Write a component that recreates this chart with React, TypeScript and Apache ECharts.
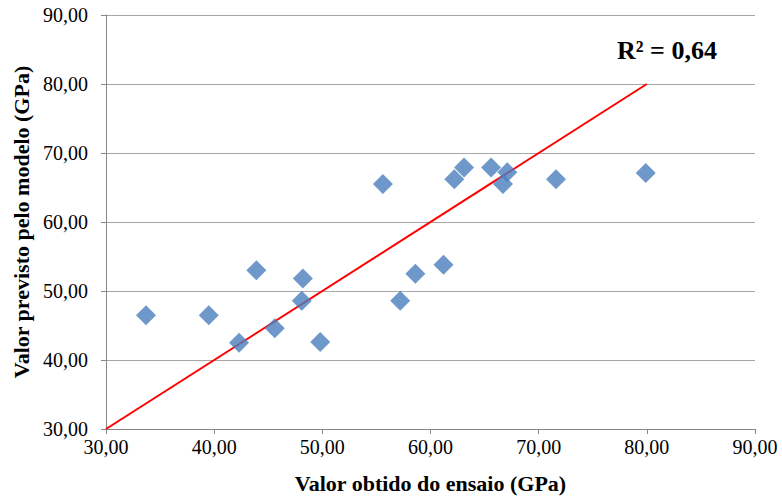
import React, { useEffect, useRef } from "react";
import * as echarts from "echarts";

// Measured (x) vs predicted (y) modulus, GPa
const obtido: number[] = [33.7, 39.5, 42.3, 43.9, 45.6, 48.2, 48.1, 49.8, 55.6, 57.2, 58.6, 61.2, 62.2, 63.1, 65.6, 66.7, 67.1, 71.6, 79.9];
const previsto: number[] = [46.5, 46.5, 42.5, 53.0, 44.6, 51.8, 48.6, 42.6, 65.5, 48.6, 52.5, 53.8, 66.2, 67.9, 67.9, 65.5, 67.2, 66.2, 67.1];

// Reference line y = x
const linhaX: number[] = [30, 80];
const linhaY: number[] = [30, 80];

const r2Label = "R² = 0,64";
const xTitle = "Valor obtido do ensaio (GPa)";
const yTitle = "Valor previsto pelo modelo (GPa)";

const FONT = "Liberation Serif";

export default function App() {
  const ref = useRef<HTMLDivElement>(null);

  useEffect(() => {
    if (!ref.current) return;
    const chart = echarts.init(ref.current, null, { renderer: "svg" });
    const fmt = (v: number) => v.toFixed(2).replace(".", ",");
    const labelStyle = {
      color: "#000",
      fontFamily: FONT,
      fontSize: 20,
      fontWeight: "normal" as const,
      fontStyle: "normal" as const,
      formatter: fmt,
    };
    const axisCommon = {
      type: "value" as const,
      min: 30,
      max: 90,
      interval: 10,
      axisLine: { show: true, lineStyle: { color: "#868686", width: 1 } },
      axisTick: { show: true, inside: false, length: 5, lineStyle: { color: "#868686" } },
      nameTextStyle: { color: "#000", fontFamily: FONT, fontSize: 22, fontWeight: "bold" as const },
    };
    chart.setOption({
      animation: false,
      backgroundColor: "#fff",
      textStyle: { fontFamily: FONT },
      grid: { left: 106, right: 27, top: 15, bottom: 72 },
      xAxis: {
        ...axisCommon,
        name: xTitle,
        nameLocation: "middle",
        nameGap: 43,
        splitLine: { show: false },
        axisLabel: { ...labelStyle, margin: 8 },
      },
      yAxis: {
        ...axisCommon,
        name: yTitle,
        nameLocation: "middle",
        nameGap: 73,
        splitLine: { show: true, lineStyle: { color: "#A6A6A6", width: 1 } },
        axisLabel: { ...labelStyle, margin: 18 },
      },
      series: [
        {
          type: "line",
          data: linhaX.map((x, i) => [x, linhaY[i]]),
          showSymbol: false,
          symbol: "none",
          lineStyle: { color: "#FF0000", width: 2 },
          z: 3,
        },
        {
          type: "scatter",
          data: obtido.map((x, i) => [x, previsto[i]]),
          symbol: "diamond",
          symbolSize: [20, 20],
          itemStyle: { color: "#4A7EBB" },
          z: 4,
        },
      ],
      graphic: [
        {
          type: "text",
          left: 617,
          top: 37,
          style: {
            text: r2Label,
            fill: "#000",
            font: `bold 26px ${FONT}`,
          },
        },
      ],
    });
    return () => chart.dispose();
  }, []);

  return (
    <div
      ref={ref}
      style={{ position: "fixed", left: 0, top: 0, width: 782, height: 501, background: "#fff" }}
    />
  );
}
